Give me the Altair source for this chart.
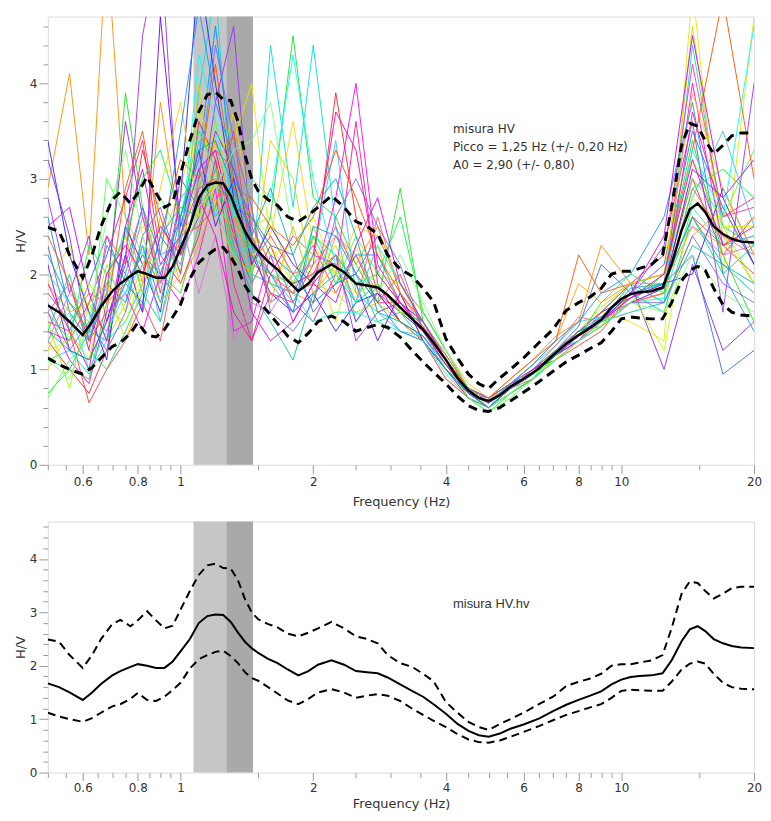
import altair as alt
import pandas as pd

# ---------------- data ----------------
freq_win = [0.5, 0.56, 0.62, 0.68, 0.75, 0.82, 0.9, 1.0, 1.1, 1.2, 1.32, 1.45, 1.6, 1.8, 2.0, 2.25,
            2.5, 2.8, 3.15, 3.55, 4.0, 4.5, 5.0, 5.6, 6.3, 7.1, 8.0, 9.0, 10.5, 12.5, 14.5, 17, 20]

w01 = [1.3, 1.0, 0.75, 1.2, 2.2, 3.3, 2.6, 2.0, 3.6, 3.2, 2.4, 1.9, 2.3, 1.7, 2.1, 3.9, 2.6, 1.8, 1.5, 1.3, 0.9, 0.7, 0.6, 0.8, 1.0, 1.1, 1.3, 1.5, 1.8, 1.9, 3.0, 2.2, 2.6]
w02 = [2.9, 4.1, 2.2, 5.5, 2.6, 1.9, 3.8, 2.4, 2.9, 3.4, 2.6, 2.1, 2.0, 1.8, 1.7, 2.4, 2.1, 2.5, 1.8, 1.3, 1.0, 0.8, 0.7, 0.9, 1.1, 1.35, 1.5, 2.3, 1.9, 1.7, 2.4, 2.7, 2.1]
w03 = [1.9, 2.3, 1.6, 1.4, 2.2, 2.5, 2.3, 2.9, 3.7, 3.3, 3.4, 4.0, 2.3, 1.9, 2.2, 1.5, 2.3, 1.6, 1.7, 1.4, 1.2, 0.8, 0.65, 0.8, 0.95, 1.1, 1.4, 1.6, 1.5, 1.3, 5.0, 2.0, 4.7]
w04 = [1.5, 0.8, 1.7, 1.3, 1.7, 2.4, 1.8, 2.1, 2.7, 3.6, 3.0, 2.5, 2.6, 1.9, 2.0, 2.3, 1.8, 2.0, 1.9, 1.45, 1.0, 0.75, 0.6, 0.8, 0.95, 1.1, 1.3, 1.6, 1.9, 2.2, 3.2, 2.5, 1.9]
w05 = [0.75, 1.0, 0.9, 1.7, 3.9, 2.7, 2.0, 1.8, 2.5, 3.0, 2.2, 2.0, 2.6, 4.5, 2.8, 2.6, 2.1, 1.7, 2.9, 1.5, 1.1, 0.7, 0.55, 0.75, 0.9, 1.15, 1.3, 1.5, 1.7, 2.0, 3.4, 2.2, 1.5]
w06 = [1.4, 2.0, 1.2, 1.0, 1.4, 1.8, 1.5, 2.5, 3.1, 2.6, 2.9, 2.0, 1.9, 1.6, 2.4, 1.9, 2.0, 1.5, 1.6, 1.3, 1.0, 0.7, 0.6, 0.85, 1.0, 1.2, 1.4, 1.45, 1.8, 1.6, 2.6, 2.0, 2.3]
w07 = [1.1, 1.2, 0.95, 1.3, 1.5, 1.9, 2.2, 2.3, 3.9, 5.0, 2.5, 1.9, 4.4, 2.7, 4.4, 2.5, 1.5, 1.9, 1.6, 1.4, 1.1, 0.8, 0.65, 0.8, 1.0, 1.2, 1.3, 1.6, 1.9, 1.7, 4.4, 2.5, 2.3]
w08 = [2.6, 1.6, 1.3, 1.9, 1.7, 2.3, 1.7, 2.6, 3.2, 4.6, 3.0, 2.6, 2.2, 2.0, 1.7, 1.9, 2.2, 2.2, 1.7, 1.5, 1.15, 0.8, 0.7, 0.85, 0.95, 1.2, 1.4, 1.5, 1.8, 2.1, 3.5, 2.7, 2.1]
w09 = [3.4, 2.2, 1.6, 1.1, 2.5, 2.1, 1.6, 2.8, 5.2, 4.0, 2.8, 2.2, 1.8, 1.6, 1.8, 1.4, 1.7, 1.8, 1.5, 1.35, 1.05, 0.75, 0.65, 0.8, 1.0, 1.15, 1.4, 1.6, 1.75, 1.9, 2.0, 2.9, 2.2]
w10 = [3.2, 2.4, 1.3, 1.8, 3.6, 2.6, 1.9, 3.0, 2.7, 3.5, 3.1, 2.4, 1.9, 1.8, 2.2, 2.1, 1.5, 1.8, 1.6, 1.4, 1.05, 0.8, 0.7, 0.85, 0.95, 1.2, 1.35, 1.5, 1.9, 1.0, 2.1, 1.2, 1.5]
w11 = [2.8, 1.8, 2.4, 1.5, 2.1, 4.5, 5.5, 2.2, 2.6, 3.8, 4.6, 2.3, 1.7, 1.9, 2.0, 2.2, 1.3, 1.6, 1.7, 1.5, 1.1, 0.75, 0.7, 0.8, 1.0, 1.15, 1.3, 1.55, 1.8, 2.3, 3.6, 1.6, 4.0]
w12 = [1.6, 1.1, 0.85, 1.6, 1.8, 1.4, 2.0, 1.7, 2.2, 2.9, 1.4, 1.5, 2.2, 1.5, 1.9, 2.8, 4.0, 2.1, 1.7, 1.45, 1.15, 0.8, 0.65, 0.8, 0.95, 1.2, 1.35, 1.5, 1.75, 1.9, 4.0, 2.3, 2.4]
w13 = [1.4, 1.3, 1.7, 2.2, 2.8, 3.4, 2.2, 1.9, 2.4, 3.2, 1.9, 1.3, 1.8, 1.7, 1.5, 2.0, 3.6, 1.9, 1.5, 1.3, 1.0, 0.7, 0.6, 0.75, 0.9, 1.1, 1.3, 1.45, 1.7, 1.8, 3.7, 2.6, 2.8]
w14 = [1.5, 1.4, 0.65, 1.0, 1.3, 1.7, 1.3, 2.4, 2.5, 2.7, 3.5, 2.1, 2.4, 2.0, 2.3, 1.8, 2.2, 1.7, 2.0, 1.4, 1.1, 0.75, 0.6, 0.8, 0.9, 1.1, 1.25, 1.4, 1.8, 1.9, 2.6, 2.3, 2.0]
w15 = [1.9, 1.6, 1.7, 1.9, 2.4, 1.8, 2.6, 1.9, 2.3, 2.8, 2.4, 2.7, 1.7, 2.5, 1.8, 2.1, 1.7, 2.3, 1.6, 1.5, 1.15, 0.8, 0.7, 0.85, 1.05, 1.3, 1.9, 1.7, 1.9, 1.9, 2.5, 2.3, 2.6]
w16 = [1.2, 1.7, 1.4, 2.1, 1.6, 2.1, 1.7, 2.0, 4.0, 2.6, 2.2, 2.0, 3.4, 3.0, 1.9, 1.8, 1.6, 1.7, 1.5, 1.3, 1.0, 0.75, 0.6, 0.75, 0.9, 1.1, 1.3, 1.45, 1.7, 1.8, 4.6, 2.4, 1.9]
w17 = [0.7, 1.1, 1.3, 3.0, 2.6, 2.2, 2.8, 2.4, 3.0, 2.7, 2.5, 2.3, 1.9, 1.8, 2.5, 1.9, 2.4, 2.0, 1.7, 1.4, 1.05, 0.7, 0.55, 0.7, 0.9, 1.1, 1.3, 1.5, 1.9, 2.0, 3.0, 2.6, 3.3]
w18 = [1.1, 1.0, 1.4, 1.3, 2.0, 1.6, 2.4, 2.7, 2.6, 3.1, 2.3, 1.8, 1.5, 1.1, 1.8, 2.0, 1.7, 1.9, 1.6, 1.5, 1.1, 0.8, 0.65, 0.8, 1.0, 1.2, 1.4, 1.5, 1.6, 1.7, 2.3, 2.1, 1.8]
w19 = [1.8, 1.5, 1.3, 2.0, 1.8, 2.3, 1.5, 2.3, 3.4, 2.6, 2.8, 2.2, 2.0, 1.7, 2.2, 3.4, 1.8, 1.6, 1.4, 1.35, 1.05, 0.8, 0.7, 0.85, 1.05, 1.25, 1.5, 1.55, 1.8, 1.9, 2.8, 3.5, 2.5]
w20 = [2.3, 1.4, 1.9, 2.4, 1.9, 1.7, 2.4, 2.1, 2.9, 3.0, 2.7, 2.6, 2.3, 2.2, 1.6, 1.9, 2.0, 2.4, 1.9, 1.6, 1.2, 0.8, 0.65, 0.8, 1.0, 1.2, 1.45, 2.1, 1.8, 1.9, 2.2, 0.95, 1.2]
w21 = [2.1, 1.2, 1.1, 1.5, 2.2, 1.6, 4.7, 2.5, 3.3, 2.5, 3.0, 2.1, 2.5, 2.1, 1.9, 2.2, 1.9, 1.3, 1.8, 1.3, 1.0, 0.75, 0.65, 0.8, 0.95, 1.15, 1.35, 1.5, 1.7, 1.85, 3.1, 2.8, 2.1]
w22 = [1.3, 1.8, 1.6, 1.4, 1.9, 2.6, 2.0, 2.6, 1.8, 2.4, 1.3, 1.7, 1.6, 2.0, 2.1, 2.4, 2.2, 1.8, 1.7, 1.45, 1.1, 0.8, 0.7, 0.8, 1.0, 1.15, 1.35, 1.55, 1.8, 2.1, 2.5, 2.2, 2.3]
w23 = [1.6, 1.9, 1.2, 2.4, 2.1, 2.7, 1.8, 2.8, 3.0, 3.3, 3.1, 2.5, 2.1, 1.9, 2.0, 2.5, 2.0, 1.7, 1.7, 1.4, 1.1, 0.75, 0.6, 0.8, 0.95, 1.2, 1.4, 1.6, 1.9, 2.2, 4.2, 2.6, 2.7]
w24 = [1.2, 1.3, 1.9, 1.6, 1.5, 2.0, 2.2, 2.4, 2.7, 3.0, 2.6, 2.4, 2.2, 2.3, 2.6, 2.0, 1.8, 1.9, 1.6, 1.45, 1.1, 0.8, 0.65, 0.85, 1.0, 1.2, 1.35, 1.45, 1.8, 1.2, 2.8, 2.5, 2.5]
w25 = [2.0, 1.7, 1.5, 1.8, 2.5, 1.8, 2.1, 2.2, 2.8, 2.7, 2.2, 2.3, 2.1, 1.8, 1.5, 1.6, 1.6, 1.5, 1.4, 1.3, 0.95, 0.7, 0.6, 0.75, 0.9, 1.1, 1.3, 1.45, 1.7, 1.75, 2.7, 2.3, 2.4]
w26 = [1.8, 1.5, 1.8, 1.7, 1.9, 2.2, 1.9, 2.4, 2.9, 3.0, 2.6, 2.4, 2.0, 1.8, 1.9, 2.2, 1.7, 2.6, 1.8, 1.45, 1.1, 0.8, 0.7, 0.85, 1.0, 1.25, 1.55, 1.5, 1.7, 1.8, 2.9, 2.4, 2.2]
w27 = [2.4, 1.9, 1.3, 1.6, 2.9, 3.5, 2.4, 3.2, 3.0, 4.2, 2.9, 2.8, 2.5, 2.3, 2.6, 3.3, 2.8, 2.2, 1.8, 1.5, 1.1, 0.8, 0.7, 0.9, 1.1, 1.3, 2.2, 1.8, 1.9, 2.0, 3.3, 4.9, 3.0]
w28 = [1.0, 1.4, 1.1, 1.9, 1.3, 1.9, 2.9, 3.8, 2.6, 3.0, 3.7, 2.6, 2.4, 3.6, 2.3, 2.0, 2.5, 2.4, 1.9, 1.6, 1.2, 0.85, 0.7, 0.8, 1.0, 1.2, 1.4, 1.65, 1.9, 2.0, 3.9, 2.9, 2.2]
w29 = [1.6, 1.3, 2.3, 2.0, 2.4, 3.0, 3.3, 2.6, 3.5, 3.1, 2.7, 2.2, 2.0, 1.9, 2.4, 2.2, 1.9, 2.0, 2.6, 1.6, 1.2, 0.8, 0.6, 0.75, 0.9, 1.2, 1.35, 1.7, 2.0, 1.8, 2.9, 3.1, 2.8]
w30 = [1.3, 1.6, 1.0, 1.4, 1.8, 2.1, 2.5, 2.3, 4.3, 3.6, 2.6, 3.0, 2.8, 4.3, 3.0, 2.1, 1.7, 2.3, 1.9, 1.5, 1.1, 0.75, 0.6, 0.8, 0.95, 1.15, 1.35, 1.55, 1.8, 1.9, 3.3, 2.6, 4.6]
w31 = [2.2, 1.7, 1.4, 2.3, 2.0, 2.7, 2.2, 3.5, 4.8, 3.8, 3.2, 2.3, 2.0, 1.6, 2.5, 2.4, 2.0, 1.7, 1.4, 1.3, 1.0, 0.75, 0.65, 0.85, 1.05, 1.3, 1.5, 1.8, 2.0, 2.6, 3.8, 2.0, 1.4]
w32 = [1.7, 1.2, 1.5, 1.2, 1.6, 2.4, 2.7, 2.0, 3.0, 4.4, 3.4, 2.7, 1.6, 1.4, 1.7, 2.6, 3.0, 2.5, 2.1, 1.4, 1.05, 0.8, 0.7, 0.85, 1.0, 1.2, 1.4, 1.55, 1.7, 1.7, 2.4, 1.9, 1.7]
w33 = [2.5, 2.7, 1.8, 1.3, 2.5, 3.1, 2.1, 2.4, 3.1, 3.3, 2.5, 1.6, 1.3, 1.5, 1.9, 1.7, 2.3, 2.8, 1.9, 1.5, 1.1, 0.75, 0.6, 0.8, 1.0, 1.15, 1.35, 1.5, 1.8, 2.4, 4.5, 2.8, 3.2]
w34 = [1.9, 1.4, 1.0, 2.0, 2.3, 2.0, 2.5, 2.2, 2.8, 2.4, 1.6, 1.3, 2.0, 2.4, 2.2, 3.7, 3.3, 2.0, 1.7, 1.4, 1.05, 0.75, 0.65, 0.8, 0.95, 1.15, 1.3, 1.5, 1.75, 2.0, 3.2, 2.3, 2.5]
w35 = [1.1, 0.9, 1.5, 2.6, 3.3, 2.4, 1.9, 2.1, 2.7, 2.9, 3.3, 3.4, 3.8, 2.4, 2.2, 2.0, 2.1, 1.8, 2.2, 1.7, 1.2, 0.8, 0.6, 0.75, 0.95, 1.1, 1.3, 1.5, 1.7, 1.6, 2.2, 1.8, 1.6]
w36 = [1.4, 1.2, 1.1, 1.5, 1.9, 2.2, 2.0, 2.6, 3.3, 3.4, 2.9, 2.4, 2.9, 2.2, 2.7, 3.0, 2.4, 1.6, 1.5, 1.35, 1.0, 0.75, 0.6, 0.8, 0.95, 1.15, 1.4, 1.5, 1.85, 1.9, 2.6, 2.1, 1.9]

windows = [w01, w02, w03, w04, w05, w06, w07, w08, w09, w10, w11, w12, w13, w14, w15, w16, w17, w18,
           w19, w20, w21, w22, w23, w24, w25, w26, w27, w28, w29, w30, w31, w32, w33, w34, w35, w36]
win_colors = ["#ff2020", "#ff8c00", "#e8e800", "#9aff00", "#20e020", "#00e080", "#00e0e0",
              "#0090ff", "#2020ff", "#8a2be2", "#9b30ff", "#ff00ff", "#ff1493", "#ff4040",
              "#ffa500", "#d4d400", "#50ff50", "#00c8a0", "#40c0ff", "#4169e1", "#6a00ff",
              "#da70d6", "#ff3399", "#c0ff00", "#20f0c0", "#ff6060", "#ff5000", "#ffd000",
              "#00ff40", "#00ffff", "#1e90ff", "#7b68ee", "#cc00ff", "#ff00aa", "#80ff80",
              "#00b0b0"]

freq_stat = [0.5, 0.53, 0.56, 0.6, 0.63, 0.66, 0.7, 0.73, 0.77, 0.8, 0.84, 0.88, 0.92, 0.96, 1.0,
             1.05, 1.1, 1.15, 1.2, 1.25, 1.3, 1.35, 1.4, 1.45, 1.5, 1.58, 1.66, 1.75, 1.85, 1.95,
             2.05, 2.2, 2.35, 2.5, 2.65, 2.8, 2.95, 3.15, 3.35, 3.55, 3.75, 4.0, 4.25, 4.5, 4.75,
             5.0, 5.3, 5.6, 6.0, 6.5, 7.0, 7.5, 8.0, 8.5, 9.0, 9.5, 10.0, 10.5, 11.0, 11.7, 12.4,
             13.0, 13.7, 14.3, 14.9, 15.5, 16.2, 17.0, 17.8, 18.7, 20.0]
hv_mean = [1.67, 1.6, 1.5, 1.36, 1.5, 1.66, 1.82, 1.9, 1.98, 2.03, 2.0, 1.96, 1.96, 2.08, 2.27,
           2.5, 2.8, 2.93, 2.96, 2.95, 2.82, 2.62, 2.45, 2.33, 2.24, 2.13, 2.05, 1.93, 1.82, 1.9,
           2.02, 2.1, 2.02, 1.9, 1.88, 1.86, 1.78, 1.65, 1.53, 1.42, 1.28, 1.1, 0.91, 0.78, 0.7,
           0.67, 0.73, 0.82, 0.9, 1.01, 1.15, 1.27, 1.36, 1.44, 1.52, 1.65, 1.74, 1.79, 1.81, 1.82, 1.86,
           2.1, 2.46, 2.68, 2.74, 2.65, 2.5, 2.42, 2.37, 2.34, 2.33]
hv_upper = [2.49, 2.45, 2.2, 1.96, 2.2, 2.5, 2.78, 2.86, 2.74, 2.85, 3.02, 2.85, 2.7, 2.75, 3.05,
            3.4, 3.7, 3.88, 3.91, 3.83, 3.82, 3.6, 3.25, 3.0, 2.87, 2.78, 2.72, 2.6, 2.55, 2.62,
            2.7, 2.82, 2.7, 2.55, 2.5, 2.42, 2.2, 2.05, 1.98, 1.85, 1.71, 1.32, 1.12, 0.95, 0.85,
            0.8, 0.91, 1.0, 1.12, 1.28, 1.42, 1.62, 1.7, 1.76, 1.85, 2.0, 2.03, 2.03, 2.06, 2.1, 2.2,
            2.7, 3.35, 3.58, 3.55, 3.4, 3.26, 3.35, 3.45, 3.48, 3.48]
hv_lower = [1.12, 1.05, 1.0, 0.95, 1.02, 1.12, 1.24, 1.28, 1.38, 1.49, 1.36, 1.34, 1.42, 1.55, 1.68,
            1.95, 2.12, 2.2, 2.26, 2.28, 2.18, 2.05, 1.88, 1.77, 1.72, 1.6, 1.48, 1.35, 1.28, 1.38,
            1.5, 1.56, 1.5, 1.4, 1.44, 1.47, 1.44, 1.34, 1.2, 1.08, 0.97, 0.85, 0.72, 0.62, 0.57,
            0.56, 0.6, 0.67, 0.76, 0.87, 0.98, 1.08, 1.15, 1.22, 1.28, 1.4, 1.53, 1.55, 1.54, 1.53, 1.53,
            1.7, 1.93, 2.04, 2.08, 2.04, 1.85, 1.68, 1.6, 1.57, 1.56]

band_start = [1.07, 1.27]
band_end = [1.27, 1.46]
band_fill = ["#c6c6c6", "#a9a9a9"]

x_labels = [0.6, 0.8, 1, 2, 4, 6, 8, 10, 20]
x_ticks = [0.5, 0.55, 0.6, 0.65, 0.7, 0.75, 0.8, 0.85, 0.9, 0.95, 1, 1.5, 2, 2.5, 3, 3.5, 4,
           4.5, 5, 5.5, 6, 6.5, 7, 7.5, 8, 8.5, 9, 9.5, 10, 15, 20]
y_ticks = [round(0.2 * k, 1) for k in range(24)]

note_top = "misura HV\nPicco = 1,25 Hz (+/- 0,20 Hz)\nA0 = 2,90 (+/- 0,80)"
note_bottom = "misura HV.hv"

# ---------------- frames ----------------
win_names = [f"w{i+1:02d}" for i in range(len(windows))]
rows = []
for name, w in zip(win_names, windows):
    for f, v in zip(freq_win, w):
        rows.append({"f": f, "hv": v, "win": name})
win_df = pd.DataFrame(rows)
stat_df = pd.DataFrame({"f": freq_stat, "mean": hv_mean, "upper": hv_upper, "lower": hv_lower})
band_df = pd.DataFrame({"x0": band_start, "x1": band_end, "fill": band_fill,
                        "y0": [0, 0], "y1": [4.7, 4.7]})

FONT = "DejaVu Sans"
TXT = "#333333"
TICK = "#9a9a9a"
major_list = "[" + ",".join(f"{v:g}" for v in x_labels) + "]"
xlab_expr = f"indexof({major_list}, datum.value) >= 0 ? format(datum.value, '~g') : ''"

xscale = alt.Scale(type="log", domain=[0.5, 20], nice=False)
yscale = alt.Scale(domain=[0, 4.7], nice=False)


def make_xaxis(tick_major, label_pad, title_pad):
    return alt.Axis(values=x_ticks, labelExpr=xlab_expr, title="Frequency (Hz)", grid=False,
                    domain=False, tickColor=TICK, labelColor=TXT, titleColor=TXT,
                    labelFont=FONT, titleFont=FONT, labelFontSize=12, titleFontSize=13,
                    titleFontWeight="normal", labelPadding=label_pad, titlePadding=title_pad,
                    tickSize={"condition": {"test": f"indexof({major_list}, datum.value) >= 0",
                                            "value": tick_major}, "value": 5},
                    labelFlush=False, labelOverlap=False)


yaxis = alt.Axis(values=y_ticks, labelExpr="datum.value % 1 == 0 ? format(datum.value, 'd') : ''",
                 title="H/V", grid=False, domain=False, tickColor=TICK, labelColor=TXT,
                 titleColor=TXT, labelFont=FONT, titleFont=FONT, labelFontSize=12,
                 titleFontSize=13, titleFontWeight="normal", labelPadding=2, titlePadding=2,
                 tickSize={"condition": {"test": "datum.value % 1 == 0", "value": 9}, "value": 5},
                 labelFlush=False, labelOverlap=False)


def panel(xaxis, with_windows, w_mean, w_dash, dash, note, note_font, note_v):
    def X(field):
        return alt.X(field, type="quantitative", scale=xscale, axis=xaxis)

    def Y(field):
        return alt.Y(field, type="quantitative", scale=yscale, axis=yaxis)

    layers = [alt.Chart(band_df).mark_rect().encode(
        x=X("x0"), x2="x1", y=Y("y0"), y2="y1",
        color=alt.Color("fill:N", scale=None, legend=None))]
    if with_windows:
        layers.append(alt.Chart(win_df).mark_line(strokeWidth=1, opacity=0.9, clip=True).encode(
            x=X("f"), y=Y("hv"),
            color=alt.Color("win:N", scale=alt.Scale(domain=win_names, range=win_colors),
                            legend=None)))
    base = alt.Chart(stat_df)
    layers.append(base.mark_line(color="black", strokeWidth=w_mean, clip=True).encode(
        x=X("f"), y=Y("mean")))
    for col in ["upper", "lower"]:
        layers.append(base.mark_line(color="black", strokeWidth=w_dash, strokeDash=dash,
                                     clip=True).encode(x=X("f"), y=Y(col)))
    layers.append(alt.Chart(pd.DataFrame({"f": [4.15], "v": [note_v], "t": [note]})).mark_text(
        align="left", baseline="middle", font=note_font, fontSize=12 if note_font == FONT else 13,
        color=TXT, lineBreak="\n", lineHeight=18).encode(x=X("f"), y=Y("v"), text="t:N"))
    return alt.layer(*layers)


top = panel(make_xaxis(9, 3, 8), True, 2.5, 3, [9, 6], note_top, FONT, 3.52).properties(
    width=709, height=450)
bottom = panel(make_xaxis(8, 2, 4), False, 2, 2, [8, 5], note_bottom, "Liberation Sans",
               3.16).properties(width=709, height=252)

chart = alt.vconcat(top, bottom, spacing=10).properties(
    padding={"left": 5, "top": 6, "right": 0, "bottom": 0}
).configure_view(stroke=None).configure_axis(labelOverlap=False).configure(background="white")

chart.save("out.html", embed_options={"renderer": "svg", "actions": False})
